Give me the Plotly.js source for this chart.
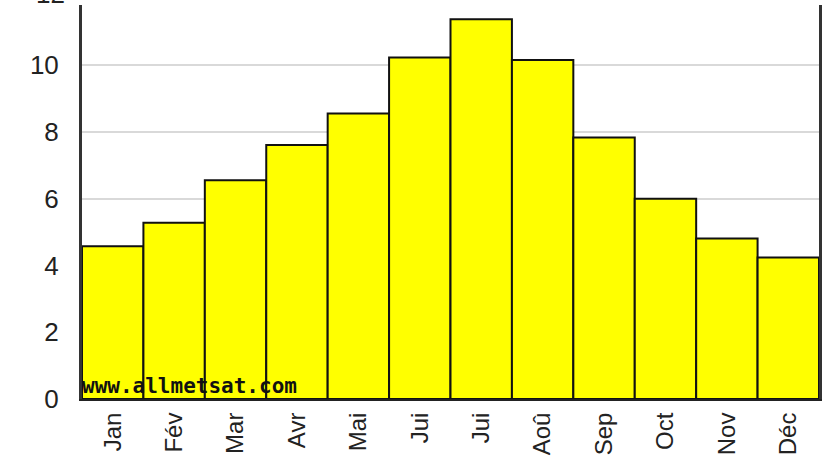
<!DOCTYPE html>
<html>
<head>
<meta charset="utf-8">
<script src="https://cdn.plot.ly/plotly-3.0.1.min.js"></script>
<style>html,body{margin:0;padding:0;background:#fff;}#chart{width:828px;height:461px;}</style>
</head>
<body>
<div id="chart"></div>
<script>
const months = ["Jan", "Fév", "Mar", "Avr", "Mai", "Jui", "Jui", "Aoû", "Sep", "Oct", "Nov", "Déc"];
const values = [4.58, 5.28, 6.56, 7.61, 8.56, 10.24, 11.38, 10.16, 7.84, 6.0, 4.81, 4.24];
const yTicks = [0, 2, 4, 6, 8, 10];
const watermark = "www.allmetsat.com";

const xIdx = months.map((_, i) => i);

const trace = {
  type: "bar",
  x: xIdx,
  y: values,
  marker: { color: "#ffff00", line: { color: "#111111", width: 2 } },
  hoverinfo: "skip"
};

const layout = {
  width: 828,
  height: 461,
  margin: { l: 82, r: 9, t: 5, b: 62, pad: 0 },
  paper_bgcolor: "#ffffff",
  plot_bgcolor: "#ffffff",
  bargap: 0,
  showlegend: false,
  font: { family: "Liberation Sans, Arial, sans-serif", size: 25, color: "#222222" },
  xaxis: {
    tickmode: "array",
    tickvals: xIdx,
    ticktext: months,
    tickangle: -90,
    range: [-0.5, months.length - 0.5],
    showgrid: false,
    zeroline: false,
    showline: true,
    linecolor: "#222222",
    linewidth: 2,
    ticks: "",
    ticklabelstandoff: 2,
    tickfont: { size: 24, color: "#222222" }
  },
  yaxis: {
    range: [0, 11.81],
    tickmode: "array",
    tickvals: yTicks,
    ticktext: yTicks.map(String),
    showgrid: true,
    gridcolor: "#d9d9d9",
    gridwidth: 2,
    zeroline: false,
    showline: true,
    mirror: true,
    linecolor: "#333333",
    linewidth: 3,
    ticks: "",
    ticklabelstandoff: 15,
    tickfont: { size: 26, color: "#222222" }
  },
  annotations: [
    {
      text: "12",
      xref: "paper", yref: "paper",
      x: 0, y: 12 / 11.81,
      xanchor: "right", yanchor: "middle",
      xshift: -15, yshift: 5,
      showarrow: false,
      font: { size: 26, color: "#222222" }
    },
    {
      text: watermark,
      xref: "paper", yref: "y",
      x: 0, y: 0.38,
      xanchor: "left", yanchor: "middle",
      xshift: -2,
      showarrow: false,
      font: { family: "DejaVu Sans Mono, monospace", size: 21, color: "#111111", weight: "bold" }
    }
  ]
};

Plotly.newPlot("chart", [trace], layout, { staticPlot: true, displayModeBar: false });
</script>
</body>
</html>
